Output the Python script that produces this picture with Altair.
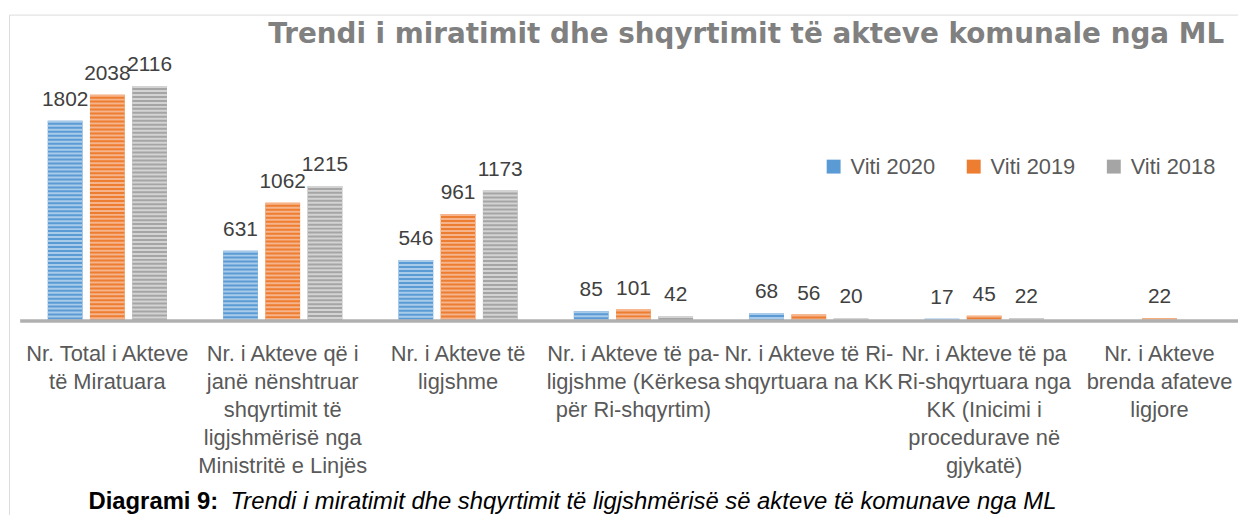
import altair as alt
import pandas as pd

categories = [
    "Nr. Total i Akteve\ntë Miratuara",
    "Nr. i Akteve që i\njanë nënshtruar\nshqyrtimit të\nligjshmërisë nga\nMinistritë e Linjës",
    "Nr. i Akteve të\nligjshme",
    "Nr. i Akteve të pa-\nligjshme (Kërkesa\npër Ri-shqyrtim)",
    "Nr. i Akteve të Ri-\nshqyrtuara na KK",
    "Nr. i Akteve të pa\nRi-shqyrtuara nga\nKK (Inicimi i\nprocedurave në\ngjykatë)",
    "Nr. i Akteve\nbrenda afateve\nligjore",
]
series = ["Viti 2020", "Viti 2019", "Viti 2018"]
values_2020 = [1802, 631, 546, 85, 68, 17, None]
values_2019 = [2038, 1062, 961, 101, 56, 45, 22]
values_2018 = [2116, 1215, 1173, 42, 20, 22, None]
bar_colors = ["#5B9BD5", "#ED7D31", "#A5A5A5"]
stripe_colors = ["#A9CBEA", "#F6B48C", "#D3D3D3"]
title_text = "Trendi i miratimit dhe shqyrtimit të akteve komunale nga ML"
caption_bold = "Diagrami 9:"
caption_italic = "Trendi i miratimit dhe shqyrtimit të ligjshmërisë së akteve të komunave nga ML"

rows = []
for s, vals in zip(series, [values_2020, values_2019, values_2018]):
    for c, v in zip(categories, vals):
        if v is not None:
            rows.append({"category": c, "series": s, "value": v})
df = pd.DataFrame(rows)

FONT = "Liberation Sans"

x_enc = alt.X(
    "category:N",
    sort=categories,
    scale=alt.Scale(domain=categories, range=[10.75, 1246.25], paddingInner=0, paddingOuter=0),
    axis=alt.Axis(
        title=None,
        labelExpr="split(datum.label, '\\n')",
        labelAngle=0,
        ticks=False,
        tickSize=0,
        domainColor="#B0B0B0",
        domainWidth=3.5,
        offset=-204,
        labelPadding=40.5,
        labelBaseline="alphabetic",
        labelLineHeight=28,
        labelFontSize=22,
        labelFont=FONT,
        labelColor="#595959",
        labelLimit=0,
        labelOverlap=False,
        labelFlush=False,
        grid=False,
        zindex=1,
    ),
)
xoff_enc = alt.XOffset(
    "series:N", sort=series,
    scale=alt.Scale(domain=series, paddingInner=0.176, paddingOuter=0.665),
)
y_enc = alt.Y(
    "value:Q",
    scale=alt.Scale(domain=[-1828, 2760], nice=False, zero=False),
    axis=None,
)

base = alt.Chart(df)

bars = base.mark_bar().encode(
    x=x_enc,
    xOffset=xoff_enc,
    y=y_enc,
    y2=alt.datum(0),
    color=alt.Color(
        "series:N",
        sort=series,
        scale=alt.Scale(domain=series, range=bar_colors),
        legend=alt.Legend(
            title=None,
            orient="none",
            legendX=819,
            legendY=142,
            direction="horizontal",
            symbolType="square",
            symbolSize=196,
            symbolStrokeWidth=0,
            labelFontSize=22,
            labelFont=FONT,
            labelColor="#595959",
            labelOffset=6,
            columnPadding=27,
            padding=0,
            labelLimit=0,
        ),
    ),
)

stripes = base.mark_rule(strokeWidth=35, strokeDash=[2, 2]).encode(
    x=x_enc,
    xOffset=xoff_enc,
    y=y_enc,
    y2=alt.datum(0),
    stroke=alt.Stroke(
        "series:N", sort=series,
        scale=alt.Scale(domain=series, range=stripe_colors), legend=None,
    ),
)

labels = base.mark_text(
    baseline="alphabetic", align="center", dy=-15, fontSize=21, font=FONT, color="#404040"
).encode(
    x=x_enc,
    xOffset=xoff_enc,
    y=y_enc,
    text=alt.Text("value:Q"),
)

title_mark = alt.Chart(pd.DataFrame({"t": [title_text]})).mark_text(
    align="center", baseline="alphabetic", font="DejaVu Sans", fontSize=28,
    fontWeight="bold", color="#808080"
).encode(x=alt.value(742), y=alt.value(29), text="t:N")

cap1 = alt.Chart(pd.DataFrame({"t": [caption_bold]})).mark_text(
    align="left", baseline="alphabetic", font=FONT, fontSize=24, fontWeight="bold", color="#000000"
).encode(x=alt.value(80), y=alt.value(498), text="t:N")

cap2 = alt.Chart(pd.DataFrame({"t": [caption_italic]})).mark_text(
    align="left", baseline="alphabetic", font=FONT, fontSize=24, fontStyle="italic", color="#000000"
).encode(x=alt.value(223), y=alt.value(498), text="t:N")

chart = alt.layer(bars, stripes, labels, title_mark, cap1, cap2).properties(
    width=1245,
    height=512,
    padding={"left": 1, "top": 5, "right": -8, "bottom": -10},
    autosize=alt.AutoSizeParams(type="none"),
).configure_view(stroke="#D9D9D9", strokeWidth=1).configure(background="white")

chart.save("out.html", embed_options={"renderer": "svg", "actions": False})
